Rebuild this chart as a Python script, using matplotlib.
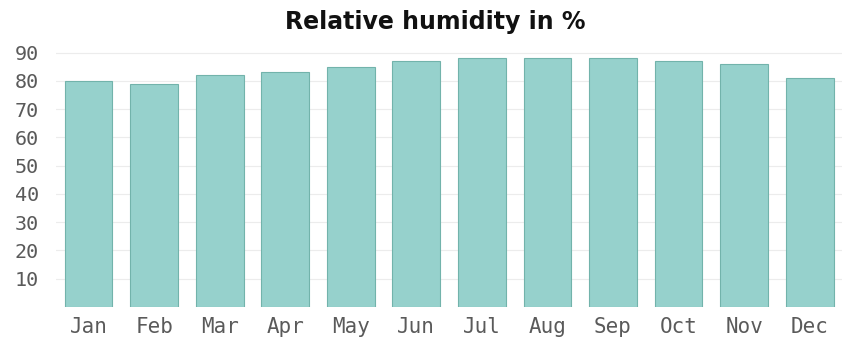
import matplotlib.pyplot as plt

# Monthly relative humidity (%)
months = ['Jan', 'Feb', 'Mar', 'Apr', 'May', 'Jun',
          'Jul', 'Aug', 'Sep', 'Oct', 'Nov', 'Dec']
humidity = [80, 79, 82, 83, 85, 87, 88, 88, 88, 87, 86, 81]
y_ticks = [10, 20, 30, 40, 50, 60, 70, 80, 90]

fig = plt.figure(figsize=(8.45, 3.46), dpi=100)
ax = fig.add_axes([0.066, 0.113, 0.931, 0.751])

ax.bar(months, humidity, width=0.73, color='#96d1cc',
       edgecolor='#72b3ab', linewidth=0.8, zorder=2)

ax.set_xlim(-0.5, len(months) - 0.5)
ax.set_ylim(0, 92)
ax.set_yticks(y_ticks)
ax.grid(axis='y', color='#ececec', linewidth=0.8, zorder=0)
ax.tick_params(length=0)
ax.tick_params(axis='y', labelsize=14.5, labelcolor='#5a5a5a', pad=12)
ax.tick_params(axis='x', labelsize=15, labelcolor='#5a5a5a', pad=7)
for lbl in ax.get_xticklabels() + ax.get_yticklabels():
    lbl.set_family('DejaVu Sans Mono')
for s in ax.spines.values():
    s.set_visible(False)

fig.text(0.515, 0.935, 'Relative humidity in %', ha='center', va='center',
         fontsize=17, fontweight='bold', color='#111111')

fig.savefig('out.png', dpi=100)
